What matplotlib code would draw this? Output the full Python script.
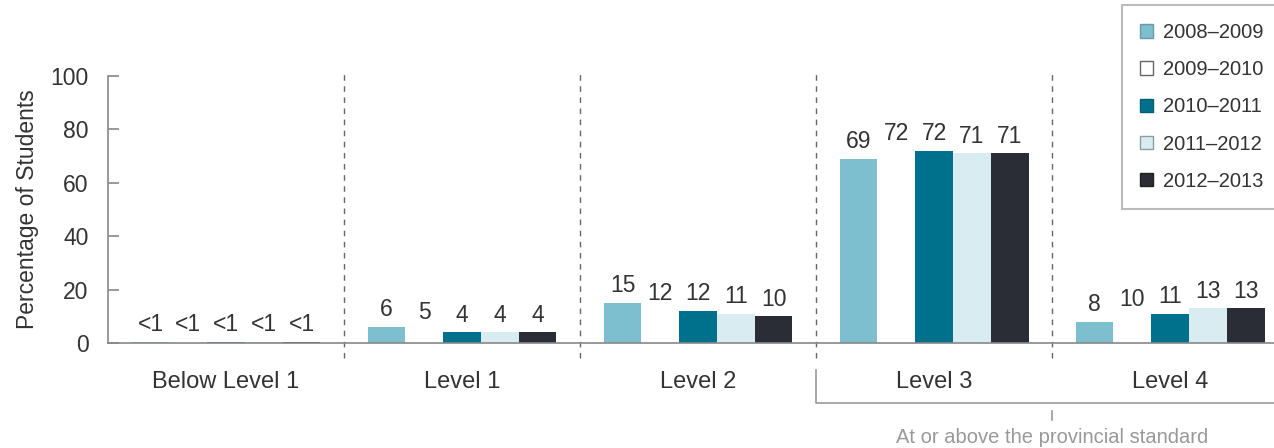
import matplotlib
matplotlib.use("Agg")
import numpy as np
import matplotlib.pyplot as plt

# data
categories = ["Below Level 1", "Level 1", "Level 2", "Level 3", "Level 4"]
years = ["2008\u20132009", "2009\u20132010", "2010\u20132011", "2011\u20132012", "2012\u20132013"]
y2008 = [0.5, 6, 15, 69, 8]
y2009 = [0.5, 5, 12, 72, 10]
y2010 = [0.5, 4, 12, 72, 11]
y2011 = [0.5, 4, 11, 71, 13]
y2012 = [0.5, 4, 10, 71, 13]
labels_2008 = ["<1", "6", "15", "69", "8"]
labels_2009 = ["<1", "5", "12", "72", "10"]
labels_2010 = ["<1", "4", "12", "72", "11"]
labels_2011 = ["<1", "4", "11", "71", "13"]
labels_2012 = ["<1", "4", "10", "71", "13"]

series = [y2008, y2009, y2010, y2011, y2012]
series_labels = [labels_2008, labels_2009, labels_2010, labels_2011, labels_2012]
colors = ["#7dbfcf", "#ffffff", "#00718d", "#d8ecf1", "#2a2d35"]
legend_edges = ["#6a9aa6", "#666666", "#005f75", "#8a9ea3", "#222222"]

plt.rcParams['font.family'] = ['Liberation Sans', 'DejaVu Sans']
text_col = "#333333"
axis_col = "#888888"

fig = plt.figure(figsize=(12.74, 4.48), dpi=100)
ax = fig.add_axes([108 / 1274, 105 / 448, 1 - 108 / 1274, 267 / 448])

x = np.arange(len(categories))
w = 0.16
handles = []
for i, vals in enumerate(series):
    pos = x + (i - 2) * w
    ax.bar(pos, vals, width=w, color=colors[i], edgecolor='none', label=years[i])
    for p, v, lab in zip(pos, vals, series_labels[i]):
        ax.annotate(lab, (p, v), xytext=(0, 4), textcoords='offset points',
                    ha='center', va='bottom', fontsize=16.5, color=text_col)
    handles.append(plt.Rectangle((0, 0), 1, 1, facecolor=colors[i], edgecolor=legend_edges[i], linewidth=1))

ax.set_xlim(-0.5, 4.44)
ax.set_ylim(0, 100)

# axes styling
for s in ['top', 'right']:
    ax.spines[s].set_visible(False)
ax.spines['left'].set_color(axis_col)
ax.spines['bottom'].set_color(axis_col)
ax.spines['left'].set_linewidth(1.2)
ax.spines['bottom'].set_linewidth(1.2)
ax.set_yticks([0, 20, 40, 60, 80, 100])
ax.tick_params(axis='y', direction='in', length=8, width=1.2, color=axis_col,
               labelsize=16.5, labelcolor=text_col, pad=14)
ax.set_xticks([])
ax.set_ylabel("Percentage of Students", fontsize=16.5, color=text_col, labelpad=8)

# dashed dividers between groups
for d in [0.5, 1.5, 2.5, 3.5]:
    ax.plot([d, d], [-5.5, 102], ls=(0, (4, 4)), color="#666666", lw=1, clip_on=False)

# category labels under axis
for xi, c in zip(x, categories):
    ax.text(xi, -14.5, c, ha='center', va='center', fontsize=17, color=text_col)

# bracket for provincial standard
ax.plot([2.5, 2.5, 4.44], [-10, -22.5, -22.5], color="#999999", lw=1.2, clip_on=False)
ax.plot([3.5, 3.5], [-25.5, -29], color="#999999", lw=1.2, clip_on=False)
ax.text(3.5, -35.5, "At or above the provincial standard", ha='center', va='center',
        fontsize=14.5, color="#999999")

leg = fig.legend(handles, years, loc='upper left', bbox_to_anchor=(1122 / 1274, 1 - 5 / 448),
                 frameon=True, fancybox=False, prop={'size': 14.5},
                 handlelength=0.65, handleheight=0.65, handletextpad=0.5, labelspacing=0.9,
                 borderpad=0.9, borderaxespad=0)
leg.get_frame().set_edgecolor("#aaaaaa")
leg.get_frame().set_linewidth(1.5)
for t in leg.get_texts():
    t.set_color(text_col)

fig.savefig("out.png", dpi=100)
